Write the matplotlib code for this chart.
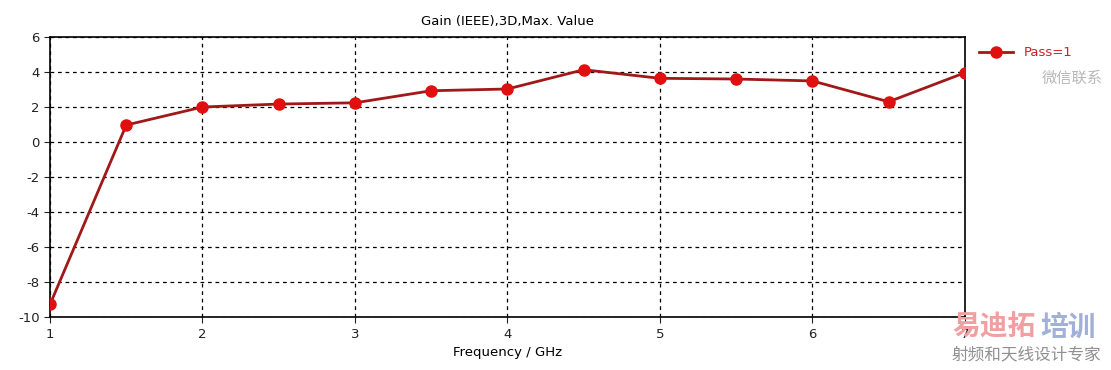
import numpy as np
import matplotlib.pyplot as plt

freq = [1, 1.5, 2, 2.5, 3, 3.5, 4, 4.5, 5, 5.5, 6, 6.5, 7]
gain = [-9.28, 0.97, 2.0, 2.17, 2.24, 2.93, 3.03, 4.13, 3.64, 3.6, 3.49, 2.3, 3.96]

x_ticks = [1, 2, 3, 4, 5, 6, 7]
y_ticks = [-10, -8, -6, -4, -2, 0, 2, 4, 6]

plt.rcParams['font.family'] = ['DejaVu Sans']
plt.rcParams['axes.unicode_minus'] = False

fig = plt.figure(figsize=(11.11, 3.70), dpi=100)
ax = fig.add_axes([0.045, 0.143, 0.8235, 0.757])

ax.plot(freq, gain, color='#a01818', linewidth=2, marker='o',
        markersize=8, markerfacecolor='#e01010', markeredgecolor='#e01010',
        label='Pass=1', zorder=3)

ax.set_xlim(1, 7)
ax.set_ylim(-10, 6)
ax.set_xticks(x_ticks)
ax.set_yticks(y_ticks)
ax.grid(True, color='black', linestyle=(0, (3, 3)), linewidth=0.9)
ax.tick_params(direction='out', length=4, labelsize=9.5, colors='#222222')
for s in ax.spines.values():
    s.set_linewidth(1.2)
ax.set_title('Gain (IEEE),3D,Max. Value', fontsize=9.5, pad=9)
ax.set_xlabel('Frequency / GHz', fontsize=9.5, labelpad=4)

leg = ax.legend(loc='upper left', bbox_to_anchor=(1.005, 1.0), frameon=False,
                fontsize=9.5, handlelength=2.6, borderaxespad=0.3)
for t in leg.get_texts():
    t.set_color('#d02020')

# watermark text
cjk = ['Noto Sans CJK SC', 'DejaVu Sans']
fig.text(1042 / 1111, 1 - 78 / 370, '微信联系', family=cjk, fontsize=11,
         color='#b8b8b8', va='center', ha='left')
fig.text(952 / 1111, 1 - 328 / 370, '易迪拓', family=cjk, fontsize=20,
         fontweight='bold', color='#f0a0a0', va='center', ha='left')
fig.text(1040 / 1111, 1 - 328 / 370, '培训', family=cjk, fontsize=20,
         fontweight='bold', color='#a0b0d8', va='center', ha='left')
fig.text(952 / 1111, 1 - 355 / 370, '射频和天线设计专家', family=cjk, fontsize=12,
         color='#909090', va='center', ha='left')

fig.savefig('out.png', dpi=100)
